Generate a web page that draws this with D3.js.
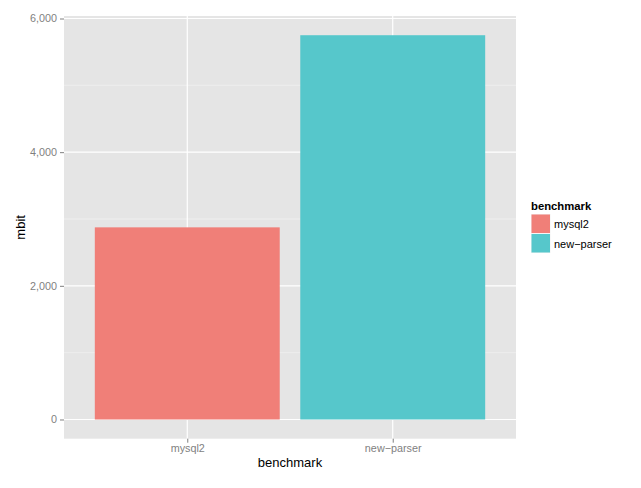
<!DOCTYPE html>
<html><head><meta charset="utf-8">
<script src="https://cdn.jsdelivr.net/npm/d3@7"></script>
<style>body{margin:0;background:#fff}svg{display:block}text{font-family:"Liberation Sans",Arial,sans-serif}</style>
</head><body><svg id="c" width="641" height="488"></svg>
<script>
const categories = ["mysql2", "new-parser"];
const values = [2875, 5750];
const colors = ["#F07F78", "#56C7CB"];
const yTicks = [0, 2000, 4000, 6000];
const yMinor = [1000, 3000, 5000];

const svg = d3.select("#c");
const P = {l: 64, r: 516, t: 16, b: 438.7};
const maxV = d3.max(values);
const y = d3.scaleLinear().domain([-0.05*maxV, maxV*1.05]).range([P.b, P.t]);
const xc = d3.scaleLinear().domain([0.4, categories.length + 0.6]).range([P.l, P.r]);
const pos = c => xc(categories.indexOf(c) + 1);
const bw = xc(1.9) - xc(1);

svg.append("rect").attr("x", P.l).attr("y", P.t).attr("width", P.r-P.l).attr("height", P.b-P.t).attr("fill", "#E5E5E5");
svg.selectAll(".ymin").data(yMinor).enter().append("line")
  .attr("x1", P.l).attr("x2", P.r).attr("y1", d=>y(d)).attr("y2", d=>y(d))
  .attr("stroke", "#F2F2F2").attr("stroke-width", 0.7);
svg.selectAll(".ymaj").data(yTicks).enter().append("line")
  .attr("x1", P.l).attr("x2", P.r).attr("y1", d=>y(d)).attr("y2", d=>y(d))
  .attr("stroke", "#fff").attr("stroke-width", 1.2);
svg.selectAll(".xmaj").data(categories).enter().append("line")
  .attr("x1", d=>pos(d)).attr("x2", d=>pos(d)).attr("y1", P.t).attr("y2", P.b)
  .attr("stroke", "#fff").attr("stroke-width", 1.2);

svg.selectAll(".bar").data(categories).enter().append("rect")
  .attr("x", d=>pos(d)-bw/2).attr("width", bw)
  .attr("y", (d,i)=>y(values[i])).attr("height", (d,i)=>y(0)-y(values[i]))
  .attr("fill", (d,i)=>colors[i]);

// y axis
const yAxis = d3.axisLeft(y).tickValues(yTicks).tickFormat(d3.format(",")).tickSize(4).tickPadding(3);
const ga = svg.append("g").attr("transform", `translate(${P.l},0)`).call(yAxis);
ga.select(".domain").remove();
ga.selectAll("line").attr("stroke", "#7F7F7F");
ga.selectAll("text").attr("fill", "#7F7F7F").style("font-size", "10.8px");

// x axis
const xs = d3.scalePoint().domain(categories).range([pos(categories[0]), pos(categories[categories.length-1])]);
const xAxis = d3.axisBottom(xs).tickSize(4).tickPadding(2);
const gx = svg.append("g").attr("transform", `translate(0,${P.b})`).call(xAxis);
gx.select(".domain").remove();
gx.selectAll("line").attr("stroke", "#7F7F7F");
gx.selectAll("text").attr("fill", "#7F7F7F").style("font-size", "10.8px").text(d=>d.replace("-", "\u2212"));

svg.append("text").attr("x", (P.l+P.r)/2).attr("y", 467).attr("text-anchor", "middle")
  .style("font-size", "13px").text("benchmark");
svg.append("text").attr("transform", `translate(25,${(P.t+P.b)/2}) rotate(-90)`).attr("text-anchor", "middle")
  .style("font-size", "13px").text("mbit");

// legend
const lg = svg.append("g");
lg.append("text").attr("x", 531).attr("y", 210).style("font-size", "11.3px").style("font-weight", "bold").text("benchmark");
categories.forEach((c,i)=>{
  lg.append("rect").attr("x", 531).attr("y", 214 + i*19.5).attr("width", 19.5).attr("height", 19.5).attr("fill", "#F2F2F2");
  lg.append("rect").attr("x", 531.5).attr("y", 214.5 + i*19.5).attr("width", 18.5).attr("height", 18.5).attr("fill", colors[i]);
  lg.append("text").attr("x", 554).attr("y", 228 + i*19.5).style("font-size", "11px").text(c.replace("-", "\u2212"));
});
</script></body></html>
